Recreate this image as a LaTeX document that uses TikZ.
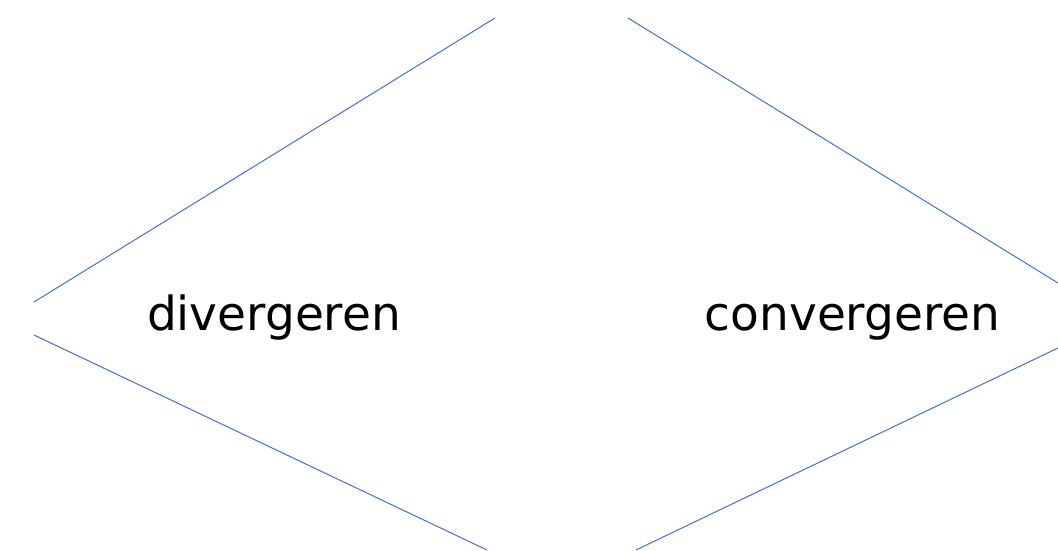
\documentclass[tikz,border=0pt]{standalone}
\usepackage{fontspec}
\setmainfont{DejaVu Sans}
\definecolor{lineblue}{HTML}{4472C4}
\begin{document}
\begin{tikzpicture}[x=1pt,y=1pt,
  edge/.style={draw=lineblue,line width=1pt},
  label/.style={anchor=base,inner sep=0pt,font=\fontsize{47}{50}\selectfont}]
\useasboundingbox (0,0) rectangle (1058,550);
\node[label] (div) at (274,220) {divergeren};
\node[label] (con) at (852.5,220) {convergeren};
\coordinate (lu1) at (34,248);
\coordinate (lu2) at (495,532);
\coordinate (ll1) at (34,215);
\coordinate (ll2) at (487,0);
\coordinate (ru1) at (628,532);
\coordinate (ru2) at (1058,267);
\coordinate (rl1) at (636,0);
\coordinate (rl2) at (1058,202);
\draw[edge] (lu1) -- (lu2);
\draw[edge] (ll1) -- (ll2);
\draw[edge] (ru1) -- (ru2);
\draw[edge] (rl1) -- (rl2);
\end{tikzpicture}
\end{document}
